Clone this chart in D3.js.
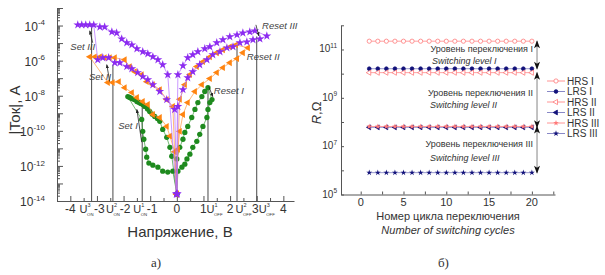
<!DOCTYPE html>
<html>
<head>
<meta charset="utf-8">
<script src="https://cdn.jsdelivr.net/npm/d3@7"></script>
<style>
  body { margin: 0; background: #fff; }
  text { font-family: "Liberation Sans", Arial, sans-serif; fill: #333; }
  .narrow { font-family: "Liberation Sans Narrow", "Liberation Sans", Arial, sans-serif; }
</style>
</head>
<body>
<svg id="chart" width="605" height="275"></svg>
<script>
// ---------- panel a) : |I|(V) loops, points are [voltage, log10 |I|] ----------
const curveI = [
  [0,-13.6],
  [-0.15,-12.3],[-0.34,-12.35],[-0.53,-12.3],[-0.71,-12.07],[-0.9,-11.96],[-1.05,-11.84],
  [-1.13,-11.5],[-1.17,-11.05],[-1.24,-10.48],[-1.28,-10.03],[-1.32,-9.35],
  [-1.84,-8.05],[-1.77,-8.1],[-1.69,-8.16],[-1.6,-8.22],[-1.5,-8.33],[-1.42,-8.39],[-1.35,-8.44],
  [-1.28,-8.5],[-1.2,-8.61],[-1.1,-8.75],[-1.02,-8.9],[-0.92,-9.05],[-0.83,-9.18],[-0.73,-9.3],
  [-0.64,-9.46],[-0.53,-9.92],[-0.38,-10.37],[-0.26,-10.94],[-0.19,-11.45],
  [0,-13.6],
  [0,-11.6],[0.11,-10.94],[0.23,-10.48],[0.3,-10.09],[0.41,-9.75],[0.56,-9.24],[0.68,-8.78],
  [0.79,-8.39],[0.94,-8.05],[1.05,-7.76],[1.17,-7.54],
  [1.32,-8.22],[1.24,-8.39],[1.17,-8.78],[1.13,-9.24],[0.98,-9.75],[0.86,-10.2],[0.75,-10.6],
  [0.6,-10.94],[0.49,-11.33],[0.38,-11.6],[0.3,-11.9],[0.19,-12.07],[0.04,-12.3],
  [0,-13.6]
];
const curveII = [
  [0,-13.6],
  [-0.08,-11.2],[-0.26,-10.3],[-0.38,-9.75],[-0.64,-9.24],[-0.9,-9.07],[-1.09,-8.5],[-1.28,-8.33],
  [-1.5,-8.1],[-1.69,-7.82],[-1.96,-7.54],[-2.18,-7.2],[-2.41,-7.25],[-2.59,-7.25],
  [-3.27,-5.78],[-3.08,-5.78],[-2.89,-5.78],[-2.71,-5.83],[-2.52,-5.83],[-2.33,-5.83],[-1.96,-5.95],
  [-1.77,-6.34],[-1.58,-6.63],[-1.32,-6.8],[-1.13,-7.2],[-0.9,-7.37],[-0.64,-7.65],[-0.38,-8.22],
  [-0.15,-8.61],
  [-0.02,-13.6],
  [0.11,-8.2],[0.3,-7.37],[0.49,-6.8],[0.75,-6.34],[0.98,-6.06],[1.24,-5.78],[1.5,-5.55],
  [1.73,-5.38],[1.99,-5.21],[2.22,-5.1],
  [2.67,-5.27],[2.48,-5.55],[2.26,-5.89],[1.99,-6.12],[1.73,-6.4],[1.5,-6.68],[1.24,-7.02],
  [0.94,-7.37],[0.68,-7.76],[0.41,-8.39],[0.23,-9.07],[0.11,-10.03],[0.04,-11.05],
  [0,-13.6]
];
const curveIII = [
  [0,-13.6],
  [-0.08,-8.78],[-0.38,-8.22],[-0.64,-7.76],[-0.9,-7.37],[-1.09,-7.08],[-1.28,-6.91],[-1.47,-6.68],
  [-1.69,-6.46],[-1.88,-6.34],[-2.14,-6.12],[-2.33,-6.12],[-2.56,-5.83],[-2.78,-5.83],[-2.97,-5.95],
  [-3.12,-3.96],[-3.27,-3.96],[-3.42,-3.96],[-3.57,-3.96],[-3.72,-3.96],
  [-2.89,-4.08],[-2.71,-4.08],[-2.44,-4.36],[-2.26,-4.42],[-2.07,-4.76],[-1.88,-4.98],[-1.69,-5.1],
  [-1.5,-5.32],[-1.28,-5.49],[-1.09,-5.61],[-0.9,-5.78],[-0.71,-5.95],[-0.53,-6.23],[-0.34,-6.8],
  [-0.02,-13.6],
  [0.04,-6.8],[0.23,-6.29],[0.41,-5.83],[0.6,-5.66],[0.79,-5.49],[1.05,-5.32],[1.24,-5.21],
  [1.5,-4.98],[1.73,-4.81],[1.99,-4.64],[2.26,-4.53],[2.48,-4.42],[2.74,-4.36],[2.93,-4.3],
  [3.38,-4.59],[3.12,-4.76],[2.86,-4.81],[2.63,-4.93],[2.37,-4.98],[2.11,-5.21],[1.88,-5.27],
  [1.62,-5.49],[1.35,-5.66],[1.13,-5.95],[0.86,-6.23],[0.6,-6.63],[0.41,-6.97],[0.23,-7.65],
  [0.04,-8.61],
  [0.02,-13.6]
];
const voltTicks = [-4, -3, -2, -1, 0, 1, 2, 3, 4];
const currentExps = [-14, -12, -10, -8, -6, -4];
// switching voltages (U_ON^n, U_OFF^n) and the log current each marker line reaches
const onVolts = [-3.2, -2.4, -1.3];
const onTops = [-3.96, -6.23, -8.4];
const onNames = ['3', '2', '1'];
const offVolts = [1.17, 2.26, 3.0];
const offTops = [-7.5, -5.2, -4.62];
const offNames = ['1', '2', '3'];
// annotation arrows: [V tail, log tail, V head, log head]
const noteArrows = [
  [-3.16, -4.98, -3.27, -4.3],
  [-2.52, -7.2, -2.63, -6.23],
  [-1.32, -10.65, -1.5, -8.78],
  [1.2, -7.48, 1.35, -8.05],
  [2.97, -3.96, 3.08, -4.59]
];
const noteLabels = ['Set III', 'Set II', 'Set I', 'Reset I', 'Reset II', 'Reset III'];
const notePos = [[-4.0, -5.4], [-3.3, -7.1], [-2.2, -9.9], [1.39, -7.9], [2.63, -5.95], [3.2, -4.2]];

// ---------- panel б) : resistance vs switching cycle ----------
const cycles = [1,2,3,4,5,6,7,8,9,10,11,12,13,14,15,16,17,18,19,20];
const hrsI   = [2.2e11,2.2e11,2.2e11,2.2e11,2.2e11,2.2e11,2.2e11,2.2e11,2.2e11,2.2e11,2.2e11,2.2e11,2.2e11,2.2e11,2.2e11,2.2e11,2.2e11,2.2e11,2.2e11,2.2e11];
const lrsI   = [1.6e10,1.6e10,1.6e10,1.6e10,1.6e10,1.6e10,1.6e10,1.6e10,1.6e10,1.6e10,1.6e10,1.6e10,1.6e10,1.6e10,1.6e10,1.6e10,1.6e10,1.6e10,1.6e10,1.6e10];
const hrsII  = [1.1e10,1.1e10,1.1e10,1.1e10,1.1e10,1.1e10,1.1e10,1.1e10,1.1e10,1.1e10,1.1e10,1.1e10,1.1e10,1.1e10,1.1e10,1.1e10,1.1e10,1.1e10,1.1e10,1.1e10];
const lrsII  = [6.0e7,6.0e7,6.0e7,6.0e7,6.0e7,6.0e7,6.0e7,6.0e7,6.0e7,6.0e7,6.0e7,6.0e7,6.0e7,6.0e7,6.0e7,6.0e7,6.0e7,6.0e7,6.0e7,6.0e7];
const hrsIII = [6.5e7,6.5e7,6.5e7,6.5e7,6.5e7,6.5e7,6.5e7,6.5e7,6.5e7,6.5e7,6.5e7,6.5e7,6.5e7,6.5e7,6.5e7,6.5e7,6.5e7,6.5e7,6.5e7,6.5e7];
const lrsIII = [8.0e5,8.0e5,8.0e5,8.0e5,8.0e5,8.0e5,8.0e5,8.0e5,8.0e5,8.0e5,8.0e5,8.0e5,8.0e5,8.0e5,8.0e5,8.0e5,8.0e5,8.0e5,8.0e5,8.0e5];
const seriesNames = ['HRS I', 'LRS I', 'HRS II', 'LRS II', 'HRS III', 'LRS III'];
const cycleTicks = [0, 5, 10, 15, 20];
const resistExps = [5, 7, 9, 11];
const levelRu = ['Уровень переключения I', 'Уровень переключения II', 'Уровень переключения III'];
const levelEn = ['Switching level I', 'Switching level II', 'Switching level III'];
// each level spans [upper R, lower R]
const levelSpans = [[2.2e11, 1.6e10], [1.1e10, 6.0e7], [6.5e7, 8.0e5]];

const svg = d3.select('#chart');
svg.append('rect').attr('width', 605).attr('height', 275).attr('fill', '#fff');

const defs = svg.append('defs');
defs.append('marker')
    .attr('id', 'head')
    .attr('viewBox', '0 0 10 10')
    .attr('refX', 9).attr('refY', 5)
    .attr('markerWidth', 5).attr('markerHeight', 5)
    .attr('orient', 'auto')
  .append('path')
    .attr('d', 'M0,1 L10,5 L0,9 z')
    .attr('fill', '#222');

const axisColor = '#555';
const styleAxis = g => {
  g.selectAll('path, line').attr('stroke', axisColor);
};

// superscript label helper: 10^exp
const powerLabel = (g, x, y, exp, size, supSize) => {
  const t = g.append('text')
    .attr('x', x).attr('y', y)
    .attr('text-anchor', 'end')
    .style('font-size', size + 'px');
  t.append('tspan').text('10');
  t.append('tspan')
    .attr('dy', -size * 0.45)
    .style('font-size', supSize + 'px')
    .text(exp);
};

// =================== panel a) ===================
const xA = d3.scaleLinear().domain([-4.5, 4.4]).range([57, 294]);
const yA = d3.scaleLog().domain([1e-14, 1e-3]).range([201, 8]);
const cur = e => Math.pow(10, e);

const pa = svg.append('g').attr('class', 'panel-a');

// minor and major ticks of the log axis
const minorA = [];
for (let e = -14; e < -3; e++) for (let k = 2; k < 10; k++) minorA.push(k * cur(e));
const decadesA = d3.range(-14, -2).map(cur);

pa.append('g')
    .attr('transform', `translate(${xA.range()[0]},0)`)
    .call(d3.axisLeft(yA).tickValues(minorA).tickSize(-3).tickSizeOuter(0).tickFormat(''))
    .call(styleAxis);
pa.append('g')
    .attr('transform', `translate(${xA.range()[0]},0)`)
    .call(d3.axisLeft(yA).tickValues(decadesA).tickSize(-6).tickSizeOuter(0).tickFormat(''))
    .call(g => g.select('.domain').remove())
    .call(styleAxis);

currentExps.forEach(e => powerLabel(pa, 45, yA(cur(e)) + 5, String(e), 12, 8));

const halfVolts = d3.range(-4.5, 4.5, 0.5).filter(v => !Number.isInteger(v));
pa.append('g')
    .attr('transform', `translate(0,${yA.range()[0]})`)
    .call(d3.axisBottom(xA).tickValues(halfVolts).tickSize(-3).tickSizeOuter(0).tickFormat(''))
    .call(styleAxis);
pa.append('g')
    .attr('transform', `translate(0,${yA.range()[0]})`)
    .call(d3.axisBottom(xA).tickValues(voltTicks).tickSize(-5).tickSizeOuter(0).tickFormat(''))
    .call(g => g.select('.domain').remove())
    .call(styleAxis);

// small nudges so the tick numbers sit between the U labels
const tickNudge = { '-3': 2.5, '-2': 1.5, '-1': 2, '3': -1.5 };
pa.selectAll('text.vtick')
  .data(voltTicks)
  .join('text')
    .attr('class', 'vtick')
    .attr('x', d => xA(d) + (tickNudge[d] || 0))
    .attr('y', 213)
    .attr('text-anchor', 'middle')
    .style('font-size', '12px')
    .text(d => String(d));

// U_ON / U_OFF labels under the axis
const uLabel = (x, sup, sub) => {
  pa.append('text').attr('x', x).attr('y', 213).style('font-size', '11px').text('U');
  pa.append('text').attr('x', x + 8).attr('y', 207).style('font-size', '5.5px').text(sup);
  pa.append('text').attr('x', x + 7.5).attr('y', 216).style('font-size', '4.3px').text(sub);
};
const onShift = [-12, -7, -9];
const offShift = [-1.5, -1.5, 2];
onVolts.forEach((v, i) => uLabel(xA(v) + onShift[i], onNames[i], 'ON'));
offVolts.forEach((v, i) => uLabel(xA(v) + offShift[i], offNames[i], 'OFF'));

// switching-voltage marker lines
const vlines = onVolts.map((v, i) => [v, onTops[i]]).concat(offVolts.map((v, i) => [v, offTops[i]]));
pa.selectAll('line.vline')
  .data(vlines)
  .join('line')
    .attr('class', 'vline')
    .attr('x1', d => xA(d[0])).attr('x2', d => xA(d[0]))
    .attr('y1', yA.range()[0]).attr('y2', d => yA(cur(d[1])))
    .attr('stroke', '#333').attr('stroke-width', 0.9);

// curves
const lineA = d3.line().x(d => xA(d[0])).y(d => yA(cur(d[1])));
const curves = [
  { data: curveI, line: '#3a9a3a', fill: '#1e8a1e', shape: 'circle' },
  { data: curveII, line: '#ff9a40', fill: '#ff8410', shape: 'triangle' },
  { data: curveIII, line: '#b36bff', fill: '#8c2bf0', shape: 'star' }
];
const symCircle = d3.symbol(d3.symbolCircle, 22);
const symTri = d3.symbol(d3.symbolTriangle, 20);
const symStar = d3.symbol(d3.symbolStar, 24);

curves.forEach(c => {
  pa.append('path')
      .attr('d', lineA(c.data))
      .attr('fill', 'none')
      .attr('stroke', c.line)
      .attr('stroke-width', 0.7);
  pa.selectAll(null)
    .data(c.data)
    .join('path')
      .attr('transform', d => `translate(${xA(d[0])},${yA(cur(d[1]))})` + (c.shape === 'triangle' ? ' rotate(-90)' : ''))
      .attr('d', c.shape === 'circle' ? symCircle() : c.shape === 'triangle' ? symTri() : symStar())
      .attr('fill', c.fill);
});

// Set / Reset annotations
pa.selectAll('line.note')
  .data(noteArrows)
  .join('line')
    .attr('class', 'note')
    .attr('x1', d => xA(d[0])).attr('y1', d => yA(cur(d[1])))
    .attr('x2', d => xA(d[2])).attr('y2', d => yA(cur(d[3])))
    .attr('stroke', '#222').attr('stroke-width', 0.8)
    .attr('marker-end', 'url(#head)');
pa.selectAll('text.note')
  .data(noteLabels)
  .join('text')
    .attr('class', 'note')
    .attr('x', (d, i) => xA(notePos[i][0]))
    .attr('y', (d, i) => yA(cur(notePos[i][1])))
    .style('font-size', '9.5px')
    .style('font-style', 'italic')
    .style('fill', '#444')
    .text(d => d);

// axis titles
pa.append('text')
    .attr('transform', 'translate(20,110) rotate(-90)')
    .attr('text-anchor', 'middle')
    .style('font-size', '15px')
    .text('|Ток|, А');
pa.append('text')
    .attr('x', 180).attr('y', 237)
    .attr('text-anchor', 'middle')
    .style('font-size', '15px')
    .text('Напряжение, В');
pa.append('text')
    .attr('x', 151).attr('y', 267)
    .style('font-family', '"Liberation Serif", serif')
    .style('font-size', '13px')
    .text('а)');

// =================== panel б) ===================
const xB = d3.scaleLinear().domain([-2.3, 22.7]).range([341, 555]);
const yB = d3.scaleLog().domain([1e5, 1e12]).range([194.5, 25.3]);
const pb = svg.append('g').attr('class', 'panel-b');

pb.append('g')
    .attr('transform', `translate(${xB.range()[0]},0)`)
    .call(d3.axisLeft(yB).tickValues(d3.range(5, 13).map(cur)).tickSize(-3).tickSizeOuter(0).tickFormat(''))
    .call(styleAxis);
pb.append('g')
    .attr('transform', `translate(0,${yB.range()[0]})`)
    .call(d3.axisBottom(xB).tickValues(d3.range(0, 23, 2.5)).tickSize(-3).tickSizeOuter(0).tickFormat(''))
    .call(styleAxis);

resistExps.forEach(e => powerLabel(pb, 337, yB(cur(e)) + 3, String(e), 10, 6.5));
pb.selectAll('text.ctick')
  .data(cycleTicks)
  .join('text')
    .attr('class', 'ctick narrow')
    .attr('x', d => xB(d))
    .attr('y', 206)
    .attr('text-anchor', 'middle')
    .style('font-size', '11px')
    .text(d => String(d));

const pink = '#ff7a7a';
const navy = '#12127a';
const lrsLine = '#6a6ab8';
const styleB = [
  { values: hrsI, line: pink, fill: '#fff', stroke: pink, sym: d3.symbol(d3.symbolCircle, 14), rot: 0 },
  { values: lrsI, line: lrsLine, fill: navy, stroke: navy, sym: d3.symbol(d3.symbolCircle, 11), rot: 0 },
  { values: hrsII, line: pink, fill: '#fff', stroke: pink, sym: d3.symbol(d3.symbolTriangle, 12), rot: -90 },
  { values: lrsII, line: lrsLine, fill: navy, stroke: navy, sym: d3.symbol(d3.symbolTriangle, 10), rot: -90 },
  { values: hrsIII, line: pink, fill: pink, stroke: 'none', sym: d3.symbol(d3.symbolStar, 10), rot: 0 },
  { values: lrsIII, line: lrsLine, fill: navy, stroke: 'none', sym: d3.symbol(d3.symbolStar, 11), rot: 0 }
];
const lineB = d3.line().x((d, i) => xB(cycles[i])).y(d => yB(d));

styleB.forEach(s => {
  pb.append('path')
      .attr('d', lineB(s.values))
      .attr('fill', 'none')
      .attr('stroke', s.line)
      .attr('stroke-width', 0.7);
  pb.selectAll(null)
    .data(s.values)
    .join('path')
      .attr('transform', (d, i) => `translate(${xB(cycles[i])},${yB(d)}) rotate(${s.rot})`)
      .attr('d', s.sym())
      .attr('fill', s.fill)
      .attr('stroke', s.stroke)
      .attr('stroke-width', 0.8);
});

// level arrows (double headed)
const arrowX = xB(20.6);
levelSpans.forEach(span => {
  const yTop = yB(span[0]), yBot = yB(span[1]);
  pb.append('line')
      .attr('x1', arrowX).attr('x2', arrowX)
      .attr('y1', yTop).attr('y2', yBot)
      .attr('stroke', '#666').attr('stroke-width', 0.8);
  pb.append('path')
      .attr('d', `M${arrowX},${yTop - 1} l-3,8 l3,-2 l3,2 z`)
      .attr('fill', '#111');
  pb.append('path')
      .attr('d', `M${arrowX},${yBot + 1} l-3,-8 l3,2 l3,-2 z`)
      .attr('fill', '#111');
});

levelRu.forEach((t, i) => {
  pb.append('text')
      .attr('x', 533).attr('y', [52, 96, 147][i])
      .attr('text-anchor', 'end')
      .style('font-size', '9px')
      .text(t);
  pb.append('text')
      .attr('x', 432 - (i > 0 ? 2 : 0)).attr('y', [64, 108, 161][i])
      .style('font-size', '9px')
      .style('font-style', 'italic')
      .text(levelEn[i]);
});

// legend
const legendY = [81, 91.5, 102, 112.5, 123, 133.5];
seriesNames.forEach((name, i) => {
  const s = styleB[i];
  const g = pb.append('g').attr('transform', `translate(547,${legendY[i]})`);
  g.append('line').attr('x1', 0).attr('x2', 18).attr('stroke', s.line).attr('stroke-width', 0.8);
  g.append('path')
      .attr('transform', `translate(9,0) rotate(${s.rot})`)
      .attr('d', s.sym())
      .attr('fill', s.fill).attr('stroke', s.stroke).attr('stroke-width', 0.8);
  g.append('text')
      .attr('class', 'narrow')
      .attr('x', 20).attr('y', 3.5)
      .style('font-size', '10px')
      .text(name);
});

pb.append('text')
    .attr('transform', 'translate(321,113) rotate(-90)')
    .attr('text-anchor', 'middle')
    .style('font-size', '13px')
    .html('<tspan font-style="italic">R</tspan>,Ω');
pb.append('text')
    .attr('x', 448).attr('y', 220)
    .attr('text-anchor', 'middle')
    .style('font-size', '11px')
    .text('Номер цикла переключения');
pb.append('text')
    .attr('x', 448).attr('y', 234)
    .attr('text-anchor', 'middle')
    .style('font-size', '11px')
    .style('font-style', 'italic')
    .text('Number of switching cycles');
pb.append('text')
    .attr('x', 438).attr('y', 267)
    .style('font-family', '"Liberation Serif", serif')
    .style('font-size', '13px')
    .text('б)');
</script>
</body>
</html>
